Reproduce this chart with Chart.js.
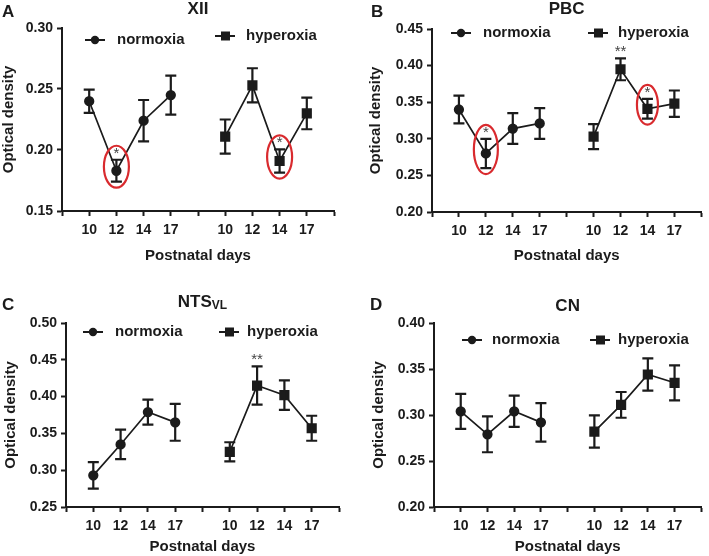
<!DOCTYPE html>
<html>
<head>
<meta charset="utf-8">
<script src="https://cdn.jsdelivr.net/npm/chart.js@4/dist/chart.umd.min.js"></script>
<style>
  body { margin: 0; background: #fff; }
  #wrap { position: relative; width: 709px; height: 556px; background: #fff; }
  canvas { position: absolute; }
</style>
</head>
<body>
<div id="wrap">
  <canvas id="panelA" width="354" height="270" style="left:0px;top:0px"></canvas>
  <canvas id="panelB" width="354" height="270" style="left:355px;top:0px"></canvas>
  <canvas id="panelC" width="354" height="286" style="left:0px;top:270px"></canvas>
  <canvas id="panelD" width="354" height="286" style="left:355px;top:270px"></canvas>
</div>
<script>
// postnatal days, shown twice on each x axis (normoxia block, then hyperoxia block)
const days = ['10', '12', '14', '17'];

// A - XII
const xiiNormoxia = [0.240, 0.183, 0.224, 0.245];
const xiiNormoxiaSem = [0.0095, 0.009, 0.017, 0.016];
const xiiHyperoxia = [0.211, 0.253, 0.191, 0.230];
const xiiHyperoxiaSem = [0.014, 0.014, 0.0095, 0.013];
const xiiTicks = [0.15, 0.20, 0.25, 0.30];
const xiiMarks = [
  { series: 0, day: '12', text: '*', circled: true },
  { series: 1, day: '14', text: '*', circled: true }
];

// B - PBC
const pbcNormoxia = [0.340, 0.280, 0.314, 0.321];
const pbcNormoxiaSem = [0.019, 0.020, 0.021, 0.021];
const pbcHyperoxia = [0.303, 0.395, 0.341, 0.348];
const pbcHyperoxiaSem = [0.017, 0.015, 0.0135, 0.018];
const pbcTicks = [0.20, 0.25, 0.30, 0.35, 0.40, 0.45];
const pbcMarks = [
  { series: 0, day: '12', text: '*', circled: true },
  { series: 1, day: '12', text: '**', circled: false },
  { series: 1, day: '14', text: '*', circled: true }
];

// C - NTS VL
const ntsNormoxia = [0.293, 0.335, 0.379, 0.365];
const ntsNormoxiaSem = [0.018, 0.020, 0.017, 0.025];
const ntsHyperoxia = [0.325, 0.415, 0.402, 0.357];
const ntsHyperoxiaSem = [0.013, 0.026, 0.020, 0.017];
const ntsTicks = [0.25, 0.30, 0.35, 0.40, 0.45, 0.50];
const ntsMarks = [
  { series: 1, day: '12', text: '**', circled: false }
];

// D - CN
const cnNormoxia = [0.304, 0.279, 0.304, 0.292];
const cnNormoxiaSem = [0.019, 0.0195, 0.017, 0.021];
const cnHyperoxia = [0.282, 0.311, 0.344, 0.335];
const cnHyperoxiaSem = [0.0175, 0.014, 0.0175, 0.019];
const cnTicks = [0.20, 0.25, 0.30, 0.35, 0.40];
const cnMarks = [];

const INK = '#1b1b1b';
const RED = '#d92a2e';
const FONT = '"Liberation Sans", Arial, Helvetica, sans-serif';

// error bars (mean +/- sem), drawn with the y scale
const errorBars = {
  id: 'errorBars',
  afterDatasetsDraw(chart) {
    const ctx = chart.ctx;
    const y = chart.scales.y;
    chart.data.datasets.forEach((ds, di) => {
      const meta = chart.getDatasetMeta(di);
      ds.data.forEach((v, i) => {
        if (v == null) return;
        const px = meta.data[i].x;
        const top = y.getPixelForValue(v + ds.sem[i]);
        const bot = y.getPixelForValue(v - ds.sem[i]);
        ctx.save();
        ctx.strokeStyle = INK;
        ctx.lineWidth = 2.2;
        ctx.beginPath();
        ctx.moveTo(px, top); ctx.lineTo(px, bot);
        ctx.moveTo(px - 5.5, top); ctx.lineTo(px + 5.5, top);
        ctx.moveTo(px - 5.5, bot); ctx.lineTo(px + 5.5, bot);
        ctx.stroke();
        ctx.restore();
      });
    });
  }
};

// panel letter, title, legend, asterisks and red circles
const panelDecor = {
  id: 'panelDecor',
  afterDraw(chart, args, opts) {
    const ctx = chart.ctx;
    const area = chart.chartArea;
    const y = chart.scales.y;
    ctx.save();
    ctx.fillStyle = INK;
    ctx.textBaseline = 'middle';

    // letter
    ctx.font = 'bold 17px ' + FONT;
    ctx.textAlign = 'left';
    ctx.fillText(opts.letter, opts.letterX, opts.letterY);

    // title (with optional subscript)
    const cx = (area.left + area.right) / 2;
    ctx.font = 'bold 17px ' + FONT;
    const w1 = ctx.measureText(opts.title).width;
    let w2 = 0;
    if (opts.sub) {
      ctx.font = 'bold 12px ' + FONT;
      w2 = ctx.measureText(opts.sub).width;
    }
    const tx = cx - (w1 + w2) / 2;
    ctx.font = 'bold 17px ' + FONT;
    ctx.fillText(opts.title, tx, opts.titleY);
    if (opts.sub) {
      ctx.font = 'bold 12px ' + FONT;
      ctx.fillText(opts.sub, tx + w1, opts.titleY + 4);
    }

    // legend
    opts.legend.forEach(item => {
      ctx.strokeStyle = INK;
      ctx.lineWidth = 2;
      ctx.beginPath();
      ctx.moveTo(item.x, item.y);
      ctx.lineTo(item.x + 20, item.y);
      ctx.stroke();
      ctx.fillStyle = INK;
      if (item.shape === 'circle') {
        ctx.beginPath();
        ctx.arc(item.x + 10, item.y, 4.2, 0, Math.PI * 2);
        ctx.fill();
      } else {
        ctx.fillRect(item.x + 6, item.y - 4.5, 9, 9);
      }
      ctx.font = 'bold 15px ' + FONT;
      ctx.textAlign = 'left';
      ctx.fillText(item.label, item.textX, item.y);
    });

    // significance marks
    opts.marks.forEach(m => {
      const ds = chart.data.datasets[m.series];
      const meta = chart.getDatasetMeta(m.series);
      const offset = m.series === 0 ? 1 : 6;
      const i = offset + days.indexOf(m.day);
      const v = ds.data[i];
      const px = meta.data[i].x;
      const top = y.getPixelForValue(v + ds.sem[i]);
      const bot = y.getPixelForValue(v - ds.sem[i]);
      ctx.fillStyle = '#444';
      ctx.font = '15px ' + FONT;
      ctx.textAlign = 'center';
      ctx.textBaseline = 'alphabetic';
      ctx.fillText(m.text, px, top - 2);
      if (m.circled) {
        const eTop = top - 14;
        const eBot = bot + 6;
        const rx = (opts.ellipseRx && opts.ellipseRx[m.series]) || 12.5;
        ctx.strokeStyle = RED;
        ctx.lineWidth = 2.2;
        ctx.beginPath();
        ctx.ellipse(px, (eTop + eBot) / 2, rx, (eBot - eTop) / 2, 0, 0, Math.PI * 2);
        ctx.stroke();
      }
    });
    ctx.restore();
  }
};

function buildPanel(id, p) {
  const labels = ['', ...days, '', ...days, ''];
  const nulls = n => new Array(n).fill(null);
  const normData = [null, ...p.normoxia, ...nulls(6)];
  const normSem = [null, ...p.normoxiaSem, ...nulls(6)];
  const hyperData = [...nulls(6), ...p.hyperoxia, null];
  const hyperSem = [...nulls(6), ...p.hyperoxiaSem, null];

  const tickFont = { family: FONT, size: 14, weight: 'bold' };
  const titleFont = { family: FONT, size: 15, weight: 'bold' };

  new Chart(document.getElementById(id), {
    type: 'line',
    data: {
      labels: labels,
      datasets: [
        {
          label: 'normoxia',
          data: normData,
          sem: normSem,
          borderColor: INK,
          backgroundColor: INK,
          borderWidth: 1.7,
          pointStyle: 'circle',
          pointRadius: 4.3,
          pointBackgroundColor: INK,
          pointBorderColor: INK,
          spanGaps: false,
          tension: 0
        },
        {
          label: 'hyperoxia',
          data: hyperData,
          sem: hyperSem,
          borderColor: INK,
          backgroundColor: INK,
          borderWidth: 1.7,
          pointStyle: 'rect',
          pointRadius: 6,
          pointBackgroundColor: INK,
          pointBorderColor: INK,
          spanGaps: false,
          tension: 0
        }
      ]
    },
    options: {
      responsive: false,
      animation: false,
      devicePixelRatio: 1,
      layout: { padding: p.padding },
      plugins: {
        legend: { display: false },
        tooltip: { enabled: false },
        panelDecor: p.decor
      },
      scales: {
        x: {
          type: 'category',
          offset: false,
          border: { display: true, width: 2, color: INK },
          grid: { drawOnChartArea: false, drawTicks: true, tickLength: 5, tickWidth: 2, tickColor: INK },
          ticks: { autoSkip: false, maxRotation: 0, padding: 6, color: INK, font: tickFont },
          title: { display: true, text: 'Postnatal days', color: INK, font: titleFont, padding: { top: 0, bottom: p.xTitlePad } },
          afterFit(s) { s.height = p.xHeight; }
        },
        y: {
          type: 'linear',
          min: p.ticks[0],
          max: p.ticks[p.ticks.length - 1],
          border: { display: true, width: 2, color: INK },
          grid: { drawOnChartArea: false, drawTicks: true, tickLength: 5, tickWidth: 2, tickColor: INK },
          ticks: { padding: 4, color: INK, font: tickFont, callback: v => v.toFixed(2) },
          afterBuildTicks(s) { s.ticks = p.ticks.map(v => ({ value: v })); },
          title: { display: true, text: 'Optical density', color: INK, font: titleFont, padding: { top: 0, bottom: 0 } },
          afterFit(s) { s.width = p.yWidth; }
        }
      }
    },
    plugins: [errorBars, panelDecor]
  });
}

buildPanel('panelA', {
  normoxia: xiiNormoxia, normoxiaSem: xiiNormoxiaSem,
  hyperoxia: xiiHyperoxia, hyperoxiaSem: xiiHyperoxiaSem,
  ticks: xiiTicks,
  padding: { left: 0, right: 20, top: 28, bottom: 0 },
  yWidth: 62, xHeight: 59, xTitlePad: 5,
  decor: {
    letter: 'A', letterX: 2, letterY: 12,
    title: 'XII', titleY: 9,
    legend: [
      { label: 'normoxia', shape: 'circle', x: 85, y: 40, textX: 117 },
      { label: 'hyperoxia', shape: 'rect', x: 215, y: 36, textX: 246 }
    ],
    marks: xiiMarks
  }
});

buildPanel('panelB', {
  normoxia: pbcNormoxia, normoxiaSem: pbcNormoxiaSem,
  hyperoxia: pbcHyperoxia, hyperoxiaSem: pbcHyperoxiaSem,
  ticks: pbcTicks,
  padding: { left: 12, right: 6, top: 29, bottom: 0 },
  yWidth: 65, xHeight: 58, xTitlePad: 5,
  decor: {
    letter: 'B', letterX: 16, letterY: 12,
    title: 'PBC', titleY: 9,
    legend: [
      { label: 'normoxia', shape: 'circle', x: 96, y: 33, textX: 128 },
      { label: 'hyperoxia', shape: 'rect', x: 233, y: 33, textX: 263 }
    ],
    marks: pbcMarks,
    ellipseRx: [12, 10.5]
  }
});

buildPanel('panelC', {
  normoxia: ntsNormoxia, normoxiaSem: ntsNormoxiaSem,
  hyperoxia: ntsHyperoxia, hyperoxiaSem: ntsHyperoxiaSem,
  ticks: ntsTicks,
  padding: { left: 2, right: 15, top: 53, bottom: 0 },
  yWidth: 64, xHeight: 49, xTitlePad: 0,
  decor: {
    letter: 'C', letterX: 2, letterY: 35,
    title: 'NTS', sub: 'VL', titleY: 32,
    legend: [
      { label: 'normoxia', shape: 'circle', x: 83, y: 62, textX: 115 },
      { label: 'hyperoxia', shape: 'rect', x: 219, y: 62, textX: 247 }
    ],
    marks: ntsMarks
  }
});

buildPanel('panelD', {
  normoxia: cnNormoxia, normoxiaSem: cnNormoxiaSem,
  hyperoxia: cnHyperoxia, hyperoxiaSem: cnHyperoxiaSem,
  ticks: cnTicks,
  padding: { left: 15, right: 2, top: 53, bottom: 0 },
  yWidth: 64, xHeight: 49, xTitlePad: 0,
  decor: {
    letter: 'D', letterX: 15, letterY: 35,
    title: 'CN', titleY: 36,
    legend: [
      { label: 'normoxia', shape: 'circle', x: 107, y: 70, textX: 137 },
      { label: 'hyperoxia', shape: 'rect', x: 235, y: 70, textX: 263 }
    ],
    marks: cnMarks
  }
});
</script>
</body>
</html>
